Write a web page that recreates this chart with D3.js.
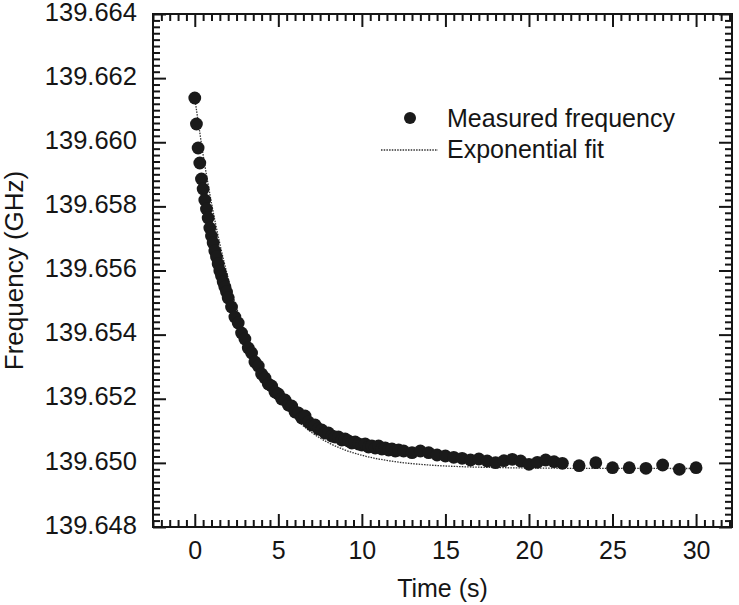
<!DOCTYPE html>
<html><head><meta charset="utf-8">
<script src="https://cdn.jsdelivr.net/npm/d3@7"></script>
<style>
body{margin:0;background:#fff}
svg{display:block}
text{font-family:"Liberation Sans",Arial,sans-serif;fill:#151515}
</style>
</head><body>
<svg id="chart" width="739" height="605"></svg>
<script>
// ---- data ----
const timeS = [
  0,0.1,0.2,0.3,0.4,0.5,0.6,0.7,0.8,0.9,1.0,1.1,1.2,1.3,1.4,1.5,1.6,1.7,1.8,1.9,
  2.0,2.2,2.4,2.6,2.8,3.0,3.2,3.4,3.6,3.8,4.0,4.2,4.4,4.6,4.8,5.0,5.2,5.4,5.6,5.8,
  6.0,6.2,6.4,6.6,6.8,7.0,7.2,7.4,7.6,7.8,8.0,8.2,8.4,8.6,8.8,9.0,9.2,9.4,9.6,9.8,
  10.0,10.2,10.4,10.6,10.8,11.0,11.2,11.4,11.6,11.8,12.0,12.2,
  12.5,13.0,13.5,14.0,14.5,15.0,15.5,16.0,16.5,17.0,17.5,18.0,18.5,19.0,19.5,20.0,20.5,21.0,21.5,22.0,
  23,24,25,26,27,28,29,30
];
const freqGHz = [
  139.661380,139.660569,139.659821,139.659353,139.658854,139.658542,139.658199,139.657918,139.657637,139.657326,
  139.657076,139.656858,139.656608,139.656421,139.656203,139.655984,139.655828,139.655641,139.655485,139.655329,
  139.655142,139.654862,139.654550,139.654363,139.654051,139.653864,139.653583,139.653427,139.653146,139.653021,
  139.652772,139.652647,139.652460,139.652398,139.652211,139.652148,139.651992,139.651961,139.651805,139.651774,
  139.651587,139.651556,139.651400,139.651462,139.651275,139.651181,139.651181,139.651057,139.651025,139.650932,
  139.650932,139.650838,139.650807,139.650807,139.650713,139.650745,139.650682,139.650620,139.650651,139.650589,
  139.650557,139.650589,139.650495,139.650526,139.650464,139.650526,139.650433,139.650464,139.650402,139.650433,
  139.650370,139.650402,
  139.650370,139.650317,139.650370,139.650317,139.650246,139.650214,139.650174,139.650143,139.650090,139.650121,
  139.650058,139.650005,139.650068,139.650111,139.650058,139.649956,139.650018,139.650090,139.650037,139.649987,
  139.649912,139.650005,139.649849,139.649849,139.649831,139.649934,139.649800,139.649849
];
const fitTimeS = [0,0.25,0.5,0.75,1,1.5,2,2.5,3,3.5,4,5,6,7,8,9,10,12,14,16,18,20,25,30];
const fitFreqGHz = [
  139.661381,139.660480,139.659607,139.658830,139.658105,139.656834,139.655758,139.654847,139.654076,139.653417,
  139.652871,139.652008,139.651389,139.650946,139.650628,139.650400,139.650237,139.650037,139.649934,139.649881,
  139.649854,139.649840,139.649827,139.649825
];
const xTickValues = [0,5,10,15,20,25,30];
const yTickValues = [139.648,139.650,139.652,139.654,139.656,139.658,139.660,139.662,139.664];
const legendLabels = ["Measured frequency","Exponential fit"];
const xTitle = "Time (s)";
const yTitle = "Frequency (GHz)";

// ---- layout ----
const L = 153, R = 732, T = 14, B = 527;
const svg = d3.select("#chart");
const x = d3.scaleLinear().domain([-2.5, 32.15]).range([L, R]);
const y = d3.scaleLinear().domain([139.648, 139.664]).range([B, T]);

const xMinor = d3.range(-2.5, 32.01, 0.5).filter(v => Math.abs(v/5 - Math.round(v/5)) > 1e-6);
const yMinor = d3.range(0, 81, 1).map(i => 139.648 + i*0.0002).filter((v,i) => i % 10 !== 0);

function styleAxis(g){
  g.select(".domain").remove();
  g.selectAll(".tick line").attr("stroke","#151515").attr("stroke-width",2);
}
const fmt = d3.format(".3f");

// bottom
svg.append("g").attr("transform",`translate(0,${B})`)
  .call(d3.axisBottom(x).tickValues(xTickValues).tickSizeInner(-13).tickSizeOuter(0).tickPadding(14).tickFormat(d3.format("d")))
  .call(styleAxis)
  .call(g => g.selectAll("text").attr("font-size",25).attr("font-family","Liberation Sans, Arial, sans-serif").attr("fill","#151515"));
svg.append("g").attr("transform",`translate(0,${B})`)
  .call(d3.axisBottom(x).tickValues(xMinor).tickSizeInner(-7).tickSizeOuter(0).tickFormat(""))
  .call(styleAxis);
// top
svg.append("g").attr("transform",`translate(0,${T})`)
  .call(d3.axisTop(x).tickValues(xTickValues).tickSizeInner(-13).tickSizeOuter(0).tickFormat(""))
  .call(styleAxis);
svg.append("g").attr("transform",`translate(0,${T})`)
  .call(d3.axisTop(x).tickValues(xMinor).tickSizeInner(-7).tickSizeOuter(0).tickFormat(""))
  .call(styleAxis);
// left
svg.append("g").attr("transform",`translate(${L},0)`)
  .call(d3.axisLeft(y).tickValues(yTickValues).tickSizeInner(-13).tickSizeOuter(0).tickPadding(16).tickFormat(fmt))
  .call(styleAxis)
  .call(g => g.selectAll("text").attr("font-size",25.5).attr("dy","0.24em").attr("font-family","Liberation Sans, Arial, sans-serif").attr("fill","#151515"));
svg.append("g").attr("transform",`translate(${L},0)`)
  .call(d3.axisLeft(y).tickValues(yMinor).tickSizeInner(-7).tickSizeOuter(0).tickFormat(""))
  .call(styleAxis);
// right
svg.append("g").attr("transform",`translate(${R},0)`)
  .call(d3.axisRight(y).tickValues(yTickValues).tickSizeInner(-13).tickSizeOuter(0).tickFormat(""))
  .call(styleAxis);
svg.append("g").attr("transform",`translate(${R},0)`)
  .call(d3.axisRight(y).tickValues(yMinor).tickSizeInner(-7).tickSizeOuter(0).tickFormat(""))
  .call(styleAxis);

// frame
svg.append("rect").attr("x",L).attr("y",T).attr("width",R-L).attr("height",B-T)
  .attr("fill","none").attr("stroke","#151515").attr("stroke-width",2);

// fit line
const fitData = fitTimeS.map((t,i) => [t, fitFreqGHz[i]]);
svg.append("path").datum(fitData)
  .attr("d", d3.line().x(d => x(d[0])).y(d => y(d[1])).curve(d3.curveMonotoneX))
  .attr("fill","none").attr("stroke","#333").attr("stroke-width",1.3).attr("stroke-dasharray","1.5,1.2");

// measured points
svg.append("g").selectAll("circle").data(timeS.map((t,i) => [t, freqGHz[i]])).join("circle")
  .attr("cx", d => x(d[0])).attr("cy", d => y(d[1])).attr("r", 6.4).attr("fill","#1a1a1a");

// legend
const lg = svg.append("g");
lg.append("circle").attr("cx",410).attr("cy",118).attr("r",6).attr("fill","#1a1a1a");
lg.append("text").attr("x",447).attr("y",127).attr("font-size",25).text(legendLabels[0]);
lg.append("line").attr("x1",381).attr("x2",438).attr("y1",150).attr("y2",150)
  .attr("stroke","#333").attr("stroke-width",1.3).attr("stroke-dasharray","1.5,1.2");
lg.append("text").attr("x",447).attr("y",158).attr("font-size",25).text(legendLabels[1]);

// axis titles
svg.append("text").attr("x",(x(-2.5)+x(32.15))/2).attr("y",597).attr("text-anchor","middle")
  .attr("font-size",25).text(xTitle);
svg.append("text").attr("transform",`translate(23,${(T+B)/2}) rotate(-90)`).attr("text-anchor","middle")
  .attr("font-size",26).text(yTitle);
</script>
</body></html>
